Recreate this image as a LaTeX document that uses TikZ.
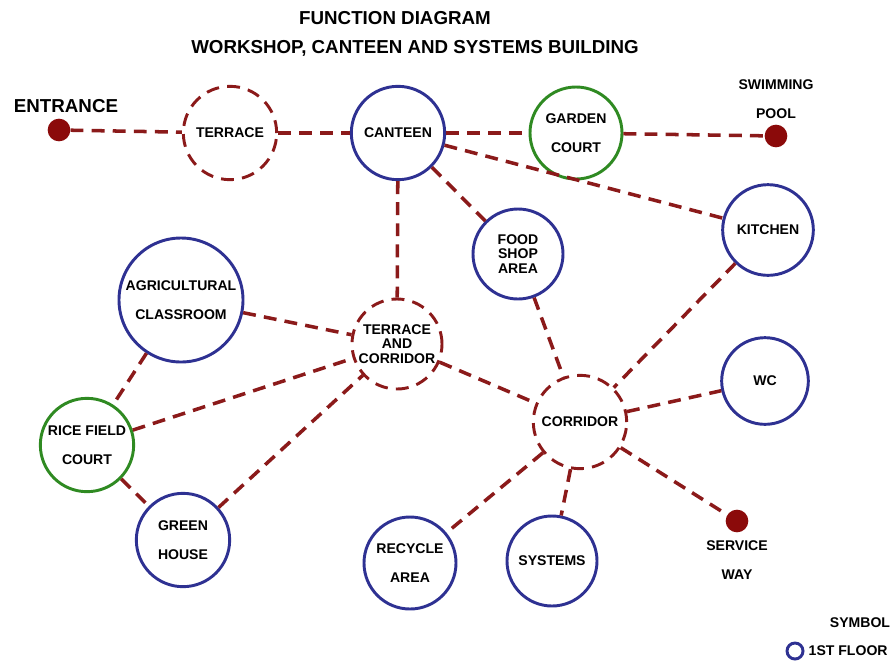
\documentclass[tikz,border=0pt]{standalone}
\usepackage{xcolor}
\usepackage{fontspec}
\setmainfont{Liberation Sans}
\usepackage{tikz}
\usetikzlibrary{positioning}
\definecolor{floorBlue}{HTML}{2E3192}
\definecolor{courtGreen}{HTML}{2F8A22}
\definecolor{linkRed}{HTML}{8B1A1A}
\definecolor{spotRed}{HTML}{8B0A0A}

\begin{document}
\begin{tikzpicture}[
  x=0.03cm, y=-0.03cm,
  room/.style={circle, draw=floorBlue, line width=2.5pt, minimum size=2.8cm, inner sep=0pt, align=center, font=\fontsize{12}{12.5}\selectfont\bfseries},
  court/.style={room, draw=courtGreen},
  openarea/.style={room, draw=linkRed, dash pattern=on 11pt off 7pt},
  spot/.style={circle, fill=spotRed, minimum size=0.68cm, inner sep=0pt},
  tag/.style={inner sep=0pt, align=center, font=\fontsize{12}{12.5}\selectfont\bfseries},
  heading/.style={inner sep=0pt, font=\fontsize{16}{18}\selectfont\bfseries},
  link/.style={draw=linkRed, line width=3pt, dash pattern=on 11pt off 7pt},
]
\useasboundingbox (0,0) rectangle (893,661);

\node[heading] (title) at (395,18) {FUNCTION DIAGRAM};
\node[heading] (subtitle) at (415,48) {WORKSHOP, CANTEEN AND SYSTEMS BUILDING};

\node[spot] (entrance) at (59,130) {};
\node[heading] (entrancename) at (66,106) {ENTRANCE};
\node[openarea] (terrace) at (230,133) {TERRACE};
\node[room] (canteen) at (398,133) {CANTEEN};
\node[court, minimum size=2.76cm] (garden) at (576,133) {GARDEN\\[12pt]COURT};
\node[spot] (pool) at (776,136) {};
\node[tag, above=0.18cm of pool] (poolname) {SWIMMING\\[12pt]POOL};

\node[room, minimum size=2.7cm] (foodshop) at (518,254) {FOOD\\SHOP\\AREA};
\node[room, minimum size=2.72cm] (kitchen) at (768,230) {KITCHEN};
\node[room, minimum size=3.72cm] (classroom) at (181,300) {AGRICULTURAL\\[12pt]CLASSROOM};
\node[openarea, minimum size=2.7cm] (terracecorridor) at (397,344) {TERRACE\\AND\\CORRIDOR};
\node[room, minimum size=2.6cm] (wc) at (765,381) {WC};
\node[openarea] (corridor) at (580,422) {CORRIDOR};
\node[court] (ricefield) at (87,445) {RICE FIELD\\[12pt]COURT};
\node[room] (greenhouse) at (183,540) {GREEN\\[12pt]HOUSE};
\node[room, minimum size=2.76cm] (recycle) at (410,563) {RECYCLE\\[12pt]AREA};
\node[room, minimum size=2.7cm] (systems) at (552,561) {SYSTEMS};
\node[spot] (serviceway) at (737,521) {};
\node[tag, below=0.24cm of serviceway] (servicename) {SERVICE\\[12pt]WAY};

\node[tag] (symbol) at (860,623) {SYMBOL};
\node[circle, draw=floorBlue, line width=2.5pt, minimum size=0.48cm, inner sep=0pt] (legendfloor) at (795,651) {};
\node[tag, right=0.12cm of legendfloor] (legendtext) {1ST FLOOR};

\draw[link] (entrance) -- (terrace);
\draw[link] (terrace) -- (canteen);
\draw[link] (canteen) -- (garden);
\draw[link] (garden) -- (pool);
\draw[link] (canteen) -- (terracecorridor);
\draw[link] (canteen) -- (foodshop);
\draw[link] (canteen) -- (kitchen);
\draw[link] (foodshop) -- (corridor);
\draw[link] (kitchen) -- (corridor);
\draw[link] (classroom) -- (terracecorridor);
\draw[link] (classroom) -- (ricefield);
\draw[link] (ricefield) -- (terracecorridor);
\draw[link] (ricefield) -- (greenhouse);
\draw[link] (greenhouse) -- (terracecorridor);
\draw[link] (terracecorridor) -- (corridor);
\draw[link] (corridor) -- (wc);
\draw[link] (corridor) -- (recycle);
\draw[link] (corridor) -- (systems);
\draw[link] (corridor) -- (serviceway);

\end{tikzpicture}
\end{document}
